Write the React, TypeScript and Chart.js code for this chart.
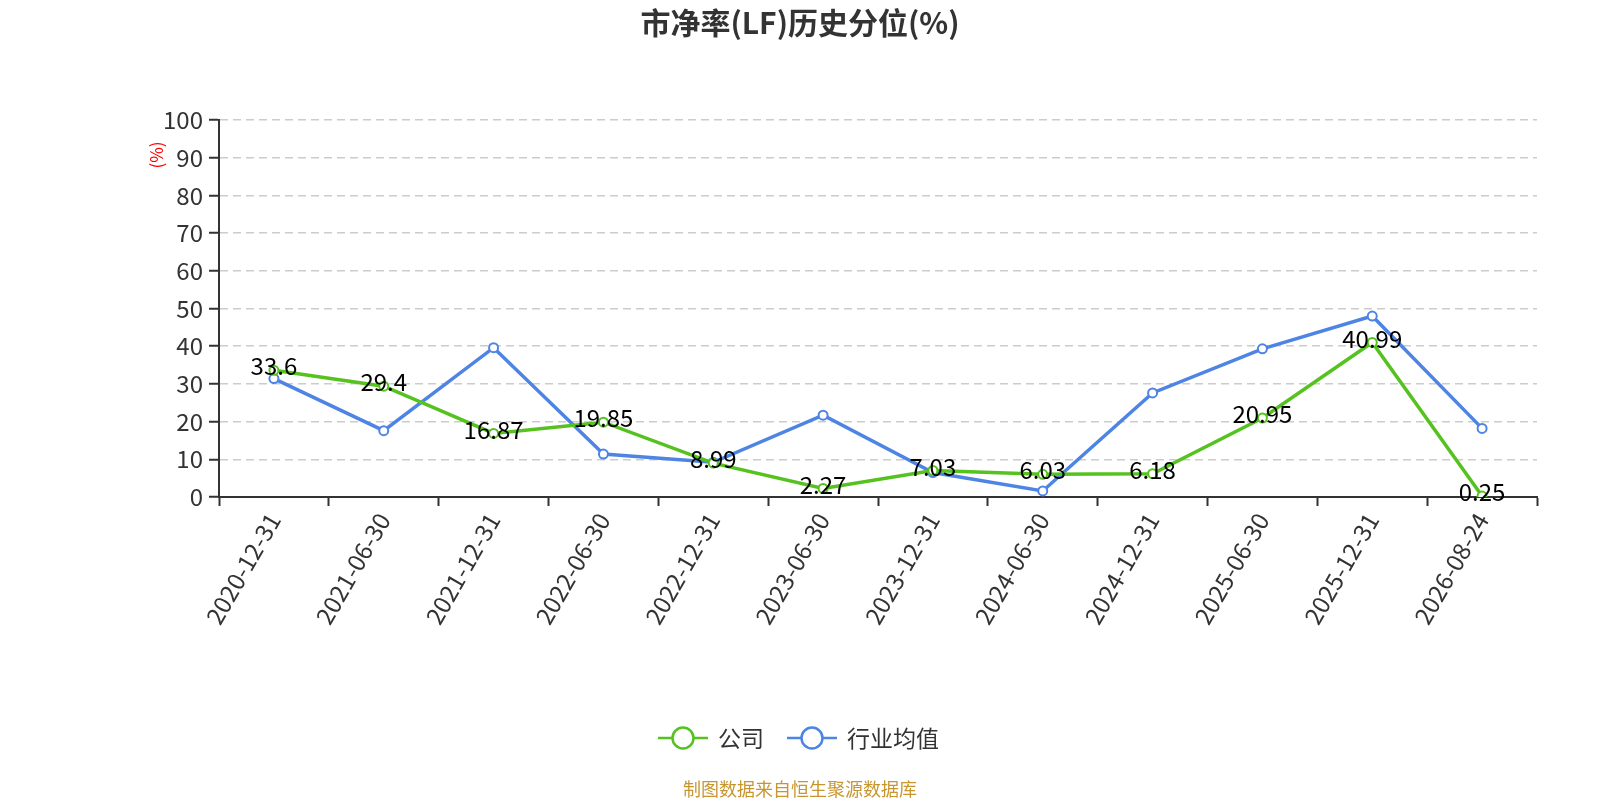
import { useEffect, useRef } from 'react';
import { Chart, registerables, Plugin } from 'chart.js';

Chart.register(...registerables);

const categories = [
  '2020-12-31', '2021-06-30', '2021-12-31', '2022-06-30', '2022-12-31', '2023-06-30',
  '2023-12-31', '2024-06-30', '2024-12-31', '2025-06-30', '2025-12-31', '2026-08-24',
];
const companyValues = [33.6, 29.4, 16.87, 19.85, 8.99, 2.27, 7.03, 6.03, 6.18, 20.95, 40.99, 0.25];
const industryValues = [31.4, 17.6, 39.6, 11.4, 9.2, 21.7, 6.5, 1.6, 27.6, 39.3, 48.0, 18.2];
const seriesNames = ['公司', '行业均值'];
const seriesColors = ['#55c21f', '#4e84e4'];

const FONT = '"Noto Sans CJK SC", "Noto Sans", sans-serif';

// title, y-axis unit, legend, footer and value labels
const decorPlugin: Plugin<'line'> = {
  id: 'decor',
  afterDatasetsDraw(chart) {
    const { ctx } = chart;
    ctx.save();

    // value labels for the company series
    const meta = chart.getDatasetMeta(0);
    ctx.font = `24px ${FONT}`;
    ctx.fillStyle = '#000';
    ctx.textAlign = 'center';
    ctx.textBaseline = 'middle';
    meta.data.forEach((pt, i) => {
      ctx.fillText(String(companyValues[i]), pt.x, pt.y - 4);
    });

    // title
    ctx.font = `bold 30px ${FONT}`;
    ctx.fillStyle = '#333';
    ctx.fillText('市净率(LF)历史分位(%)', 800, 23);

    // y unit
    ctx.save();
    ctx.translate(157, 155);
    ctx.rotate(-Math.PI / 2);
    ctx.font = `17px ${FONT}`;
    ctx.fillStyle = '#ff0000';
    ctx.fillText('(%)', 0, 0);
    ctx.restore();

    // legend
    const items = [
      { x: 658, color: seriesColors[0], text: seriesNames[0] },
      { x: 787, color: seriesColors[1], text: seriesNames[1] },
    ];
    items.forEach((it) => {
      const y = 738;
      ctx.strokeStyle = it.color;
      ctx.lineWidth = 2.5;
      ctx.beginPath();
      ctx.moveTo(it.x, y);
      ctx.lineTo(it.x + 50, y);
      ctx.stroke();
      ctx.beginPath();
      ctx.arc(it.x + 25, y, 10.5, 0, Math.PI * 2);
      ctx.fillStyle = '#fff';
      ctx.fill();
      ctx.stroke();
      ctx.font = `23px ${FONT}`;
      ctx.fillStyle = '#333';
      ctx.textAlign = 'left';
      ctx.fillText(it.text, it.x + 60, y);
    });

    // footer
    ctx.font = `18px ${FONT}`;
    ctx.fillStyle = '#c8962e';
    ctx.textAlign = 'center';
    ctx.fillText('制图数据来自恒生聚源数据库', 800, 789);

    ctx.restore();
  },
};

const App = () => {
  const canvasRef = useRef<HTMLCanvasElement | null>(null);
  const chartRef = useRef<Chart | null>(null);

  useEffect(() => {
    document.body.style.margin = '0';
    if (!canvasRef.current) return;
    if (chartRef.current) chartRef.current.destroy();

    chartRef.current = new Chart(canvasRef.current, {
      type: 'line',
      data: {
        labels: categories,
        datasets: [
          {
            label: seriesNames[0],
            data: companyValues,
            borderColor: seriesColors[0],
            backgroundColor: '#fff',
            borderWidth: 3.5,
            pointRadius: 4.5,
            pointBorderWidth: 2,
            pointBackgroundColor: '#fff',
            pointBorderColor: seriesColors[0],
            tension: 0,
          },
          {
            label: seriesNames[1],
            data: industryValues,
            borderColor: seriesColors[1],
            backgroundColor: '#fff',
            borderWidth: 3.5,
            pointRadius: 4.5,
            pointBorderWidth: 2,
            pointBackgroundColor: '#fff',
            pointBorderColor: seriesColors[1],
            tension: 0,
          },
        ],
      },
      options: {
        animation: false,
        responsive: false,
        layout: { padding: { left: 159, right: 63, top: 120, bottom: 153 } },
        plugins: {
          legend: { display: false },
          title: { display: false },
          tooltip: { enabled: false },
        },
        scales: {
          x: {
            offset: true,
            afterFit: (axis) => {
              axis.height = 150;
            },
            grid: {
              offset: true,
              drawOnChartArea: false,
              tickLength: 9,
              tickColor: '#333',
              tickWidth: 2,
            },
            border: { color: '#333', width: 2 },
            ticks: {
              minRotation: 60,
              maxRotation: 60,
              autoSkip: false,
              padding: 2,
              color: '#333',
              font: { family: FONT, size: 24 },
            },
          },
          y: {
            min: 0,
            max: 100,
            afterFit: (axis) => {
              axis.width = 60;
            },
            grid: {
              color: '#cccccc',
              lineWidth: 1.5,
              tickColor: '#333',
              tickLength: 10,
              tickWidth: 2,
              tickBorderDash: [],
            },
            border: { color: '#333', width: 2, dash: [8, 5] },
            ticks: {
              stepSize: 10,
              padding: 6,
              color: '#333',
              font: { family: FONT, size: 24 },
            },
          },
        },
      },
      plugins: [decorPlugin],
    });

    return () => {
      if (chartRef.current) {
        chartRef.current.destroy();
        chartRef.current = null;
      }
    };
  }, []);

  return (
    <div style={{ width: 1600, height: 800 }}>
      <canvas ref={canvasRef} width={1600} height={800}></canvas>
    </div>
  );
};

export default App;
